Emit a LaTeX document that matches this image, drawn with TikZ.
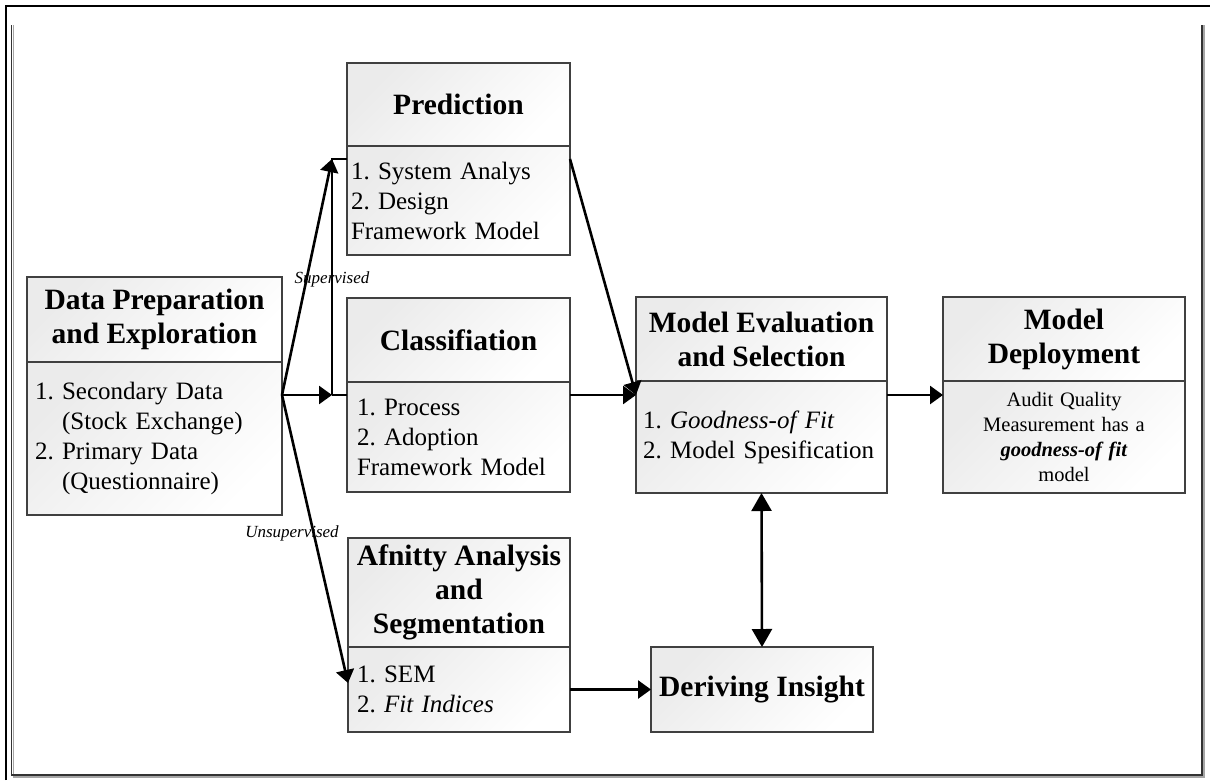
\documentclass[tikz,border=0pt]{standalone}
\usepackage{fontspec}
\setmainfont{Liberation Serif}
\usetikzlibrary{arrows.meta,calc}
\frenchspacing
\hyphenpenalty=10000
\exhyphenpenalty=10000
\tikzset{
  boxpart/.style={draw=black!75, line width=1.6pt, top color=gray!16, bottom color=white, shading angle=45, inner sep=0pt, outer sep=0pt},
  hdr/.style={boxpart, font=\fontsize{29.5}{34}\selectfont\bfseries, align=center},
  bdy/.style={boxpart, font=\fontsize{25}{30}\selectfont, align=left},
  arr/.style={line width=2.6pt, -{Triangle[length=13pt,width=18pt]}},
  dbl/.style={line width=2.6pt, {Triangle[length=18pt,width=20pt]}-{Triangle[length=18pt,width=20pt]}},
  ln/.style={line width=2.6pt},
  lab/.style={font=\fontsize{17}{19}\selectfont\itshape, inner sep=0pt},
  frameout/.style={line width=2.6pt, black},
  framein/.style={line width=1.6pt, black!80}
}
\begin{document}
\begin{tikzpicture}[x=1pt,y=-1pt]
\useasboundingbox (0,0) rectangle (1210,780);
% frame
\draw[frameout] (6,780) -- (6,6) -- (1210,6);
\draw[black!35, line width=1.6pt] (13.5,25) -- (13.5,777) -- (1204,777) -- (1204,25);
\draw[framein] (11.5,25) -- (11.5,775) -- (1202,775) -- (1202,25);

% Data Preparation
\node[hdr, minimum width=255, minimum height=85] (dph) at (154.5,319.5) {Data Preparation\\and Exploration};
\node[bdy, inner xsep=8, text width=239, minimum height=153] (dpb) at (154.5,438.5)
  {\begin{tabular}{@{}l@{~}l@{}}1.&Secondary Data\\&(Stock Exchange)\\2.&Primary Data\\&(Questionnaire)\end{tabular}};

% Prediction
\node[hdr, minimum width=223, minimum height=83] (ph) at (458.5,104.5) {Prediction};
\node[bdy, inner xsep=4, text width=215, minimum height=109] (pb) at (458.5,200.5)
  {1. System Analys\\2. Design\\Framework Model};

% Classification
\node[hdr, minimum width=223, minimum height=84] (ch) at (458.5,340) {Classifiation};
\node[bdy, inner xsep=10, text width=203, minimum height=110] (cb) at (458.5,437)
  {1. Process\\2. Adoption\\Framework Model};

% Affinity
\node[hdr, minimum width=222, minimum height=109] (ah) at (459,592.5) {Afnitty Analysis\\and\\Segmentation};
\node[bdy, inner xsep=9, text width=204, minimum height=85] (ab) at (459,689.5)
  {1. SEM\\2. \textit{Fit Indices}};

% Model Evaluation
\node[hdr, minimum width=251, minimum height=84] (meh) at (761.5,339) {Model Evaluation\\and Selection};
\node[bdy, inner xsep=7, text width=237, minimum height=112] (meb) at (761.5,437)
  {1. \textit{Goodness-of Fit}\\2. Model Spesification};

% Model Deployment
\node[hdr, minimum width=242, minimum height=84] (deph) at (1064,339) {Model\\Deployment};
\node[bdy, align=center, inner xsep=4, text width=234, minimum height=112, font=\fontsize{20.5}{25}\selectfont] (depb) at (1064,437)
  {Audit Quality\\Measurement has a\\\textbf{\textit{goodness-of fit}}\\model};

% Deriving Insight
\node[hdr, minimum width=222, minimum height=85] (di) at (762,689.5) {Deriving Insight};

% helper coordinates
\coordinate (lvl) at (0,395);
\coordinate (ulvl) at (0,683);
\coordinate (s) at (dpb.east |- lvl);
\coordinate (j) at (332,395);
\coordinate (t) at (332,159);

% connectors
\draw[arr] (s) -- (j);
\draw[ln] (j) -- (cb.west |- lvl);
\draw[ln] (j) -- (t) -- (pb.west |- t);
\draw[arr] (s) -- (t);
\draw[arr] (s) -- (ab.west |- ulvl);
\draw[arr] (pb.east |- t) -- (meb.west |- lvl);
\draw[arr] (cb.east |- lvl) -- (meb.west |- lvl);
\draw[arr] (meb.east |- lvl) -- (depb.west |- lvl);
\draw[dbl] (meb.south) -- (di.north);
\draw[arr] (ab.east) -- (di.west);

% labels
\node[lab] (sup) at (332,279) {Supervised};
\node[lab] (uns) at (292,533) {Unsupervised};
\end{tikzpicture}
\end{document}
